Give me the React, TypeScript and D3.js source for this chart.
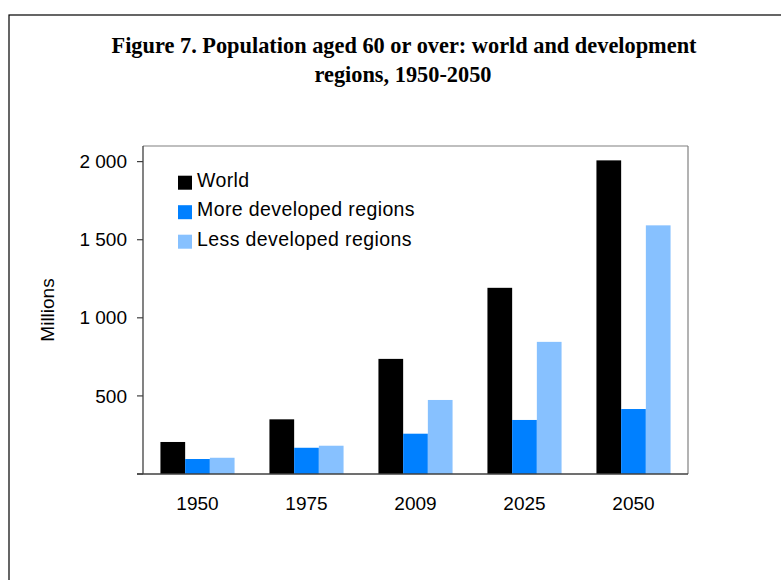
import React from "react";
import * as d3 from "d3";

const years = ["1950", "1975", "2009", "2025", "2050"];
const seriesNames = ["World", "More developed regions", "Less developed regions"];
const world = [205, 350, 737, 1192, 2008];
const moreDeveloped = [96, 168, 258, 346, 416];
const lessDeveloped = [104, 181, 474, 846, 1592];
const yTicks = [0, 500, 1000, 1500, 2000];
const yTickLabels = ["", "500", "1 000", "1 500", "2 000"];
const colors = ["#000000", "#0080ff", "#87c1ff"];
const titleLines = [
  "Figure 7. Population aged 60 or over: world and development",
  "regions, 1950-2050",
];

export default function App() {
  const W = 781;
  const H = 580;
  const plot = { left: 143, right: 688, top: 146, bottom: 474 };
  const series = [world, moreDeveloped, lessDeveloped];

  const x = d3
    .scaleBand<string>()
    .domain(years)
    .range([plot.left, plot.right])
    .paddingInner(0.32)
    .paddingOuter(0.16);
  const xs = d3
    .scaleBand<number>()
    .domain([0, 1, 2])
    .range([0, x.bandwidth()])
    .padding(0);
  const y = d3.scaleLinear().domain([0, 2100]).range([plot.bottom, plot.top]);

  const sans = "'Liberation Sans', Arial, sans-serif";
  const serif = "'Liberation Serif', 'Times New Roman', serif";

  return (
    <svg
      width={W}
      height={H}
      style={{ position: "absolute", left: 0, top: 0, background: "#fff" }}
    >
      <rect x={0} y={0} width={W} height={H} fill="#fff" />
      <rect x={9} y={15} width={790} height={620} fill="#fff" stroke="#000" strokeWidth={1.2} />

      {/* title */}
      <text
        x={404}
        y={53}
        textAnchor="middle"
        fontFamily={serif}
        fontWeight="bold"
        fontSize={22.5}
        textLength={585}
        lengthAdjust="spacingAndGlyphs"
      >
        {titleLines[0]}
      </text>
      <text
        x={403}
        y={82}
        textAnchor="middle"
        fontFamily={serif}
        fontWeight="bold"
        fontSize={22.5}
        textLength={177}
        lengthAdjust="spacingAndGlyphs"
      >
        {titleLines[1]}
      </text>

      {/* plot border top/right */}
      <line x1={plot.left} x2={plot.right} y1={plot.top} y2={plot.top} stroke="#808080" strokeWidth={1.2} />
      <line x1={plot.right} x2={plot.right} y1={plot.top} y2={plot.bottom} stroke="#808080" strokeWidth={1.2} />

      {/* bars */}
      {series.map((vals, si) =>
        vals.map((v, i) => (
          <rect
            key={`${si}-${i}`}
            x={(x(years[i]) as number) + (xs(si) as number)}
            y={y(v)}
            width={xs.bandwidth()}
            height={plot.bottom - y(v)}
            fill={colors[si]}
          />
        ))
      )}

      {/* axes */}
      <line x1={plot.left} x2={plot.left} y1={plot.top} y2={plot.bottom} stroke="#404040" strokeWidth={1.3} />
      <line x1={plot.left - 6} x2={plot.right} y1={plot.bottom} y2={plot.bottom} stroke="#404040" strokeWidth={1.3} />
      {yTicks.map((t, i) => (
        <g key={t}>
          <line x1={plot.left - 6} x2={plot.left} y1={y(t)} y2={y(t)} stroke="#404040" strokeWidth={1.2} />
          <text
            x={127}
            y={y(t)}
            dy="0.35em"
            textAnchor="end"
            fontFamily={sans}
            fontSize={19}
            fill="#000"
          >
            {yTickLabels[i]}
          </text>
        </g>
      ))}
      {years.map((yr) => (
        <text
          key={yr}
          x={(x(yr) as number) + x.bandwidth() / 2}
          y={510}
          textAnchor="middle"
          fontFamily={sans}
          fontSize={19}
          fill="#000"
        >
          {yr}
        </text>
      ))}
      <text
        transform={`translate(54,${(plot.top + plot.bottom) / 2}) rotate(-90)`}
        textAnchor="middle"
        fontFamily={sans}
        fontSize={19}
        fill="#000"
      >
        Millions
      </text>

      {/* legend */}
      {seriesNames.map((name, i) => (
        <g key={name} transform={`translate(178,${186.7 + i * 29.5})`}>
          <rect x={0} y={-11} width={14} height={14} fill={colors[i]} />
          <text x={19} y={0} fontFamily={sans} fontSize={19.5} letterSpacing={0.4} fill="#000">
            {name}
          </text>
        </g>
      ))}
    </svg>
  );
}
